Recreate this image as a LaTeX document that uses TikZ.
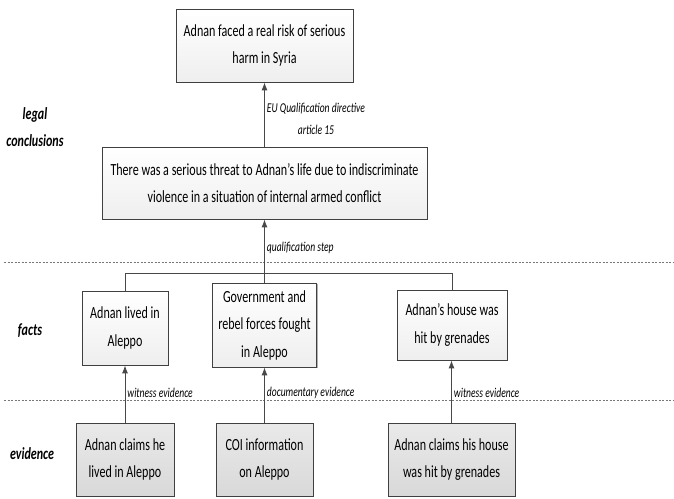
\documentclass[tikz,border=0pt]{standalone}
\usepackage{fontspec}
\setmainfont{Carlito}[FakeStretch=0.71]
\usetikzlibrary{arrows.meta}
\usetikzlibrary{shadows}
\definecolor{boxline}{RGB}{64,64,64}
\definecolor{linkgray}{RGB}{72,72,72}
\definecolor{sepgray}{RGB}{120,120,120}

\begin{document}
\begin{tikzpicture}[x=1pt, y=-1pt,
  claim/.style={draw=boxline, line width=0.8pt, top color=white, bottom color=gray!13,
    drop shadow={shadow xshift=1.2pt, shadow yshift=-1.2pt, opacity=0.3, fill=black},
    align=center, inner sep=2pt, font=\fontsize{17}{27.5}\selectfont},
  source/.style={claim, top color=gray!17, bottom color=gray!30},
  layer/.style={font=\fontsize{17}{27}\selectfont\bfseries\itshape, align=center},
  why/.style={font=\fontsize{13.5}{22}\selectfont\itshape, align=center, inner sep=2pt, right},
  link/.style={draw=linkgray, line width=0.9pt},
  support/.style={link, -{Latex[length=8pt, width=6pt]}}]

\useasboundingbox (0,0) rectangle (674,498);

% Layer separators
\foreach \y in {262,400} {
  \draw[sepgray, line width=0.5pt, dash pattern=on 2pt off 1.5pt] (4,\y) -- (674,\y);
}

% Layer names
\node[layer] (lay-legal) at (35,127) {legal\\conclusions};
\node[layer] (lay-facts) at (30,331) {facts};
\node[layer] (lay-evid) at (32,454) {evidence};

% Legal conclusions
\node[claim, minimum width=177pt, minimum height=73pt] (harm) at (264.5,45.5)
  {Adnan faced a real risk of serious\\harm in Syria};
\node[claim, minimum width=325pt, minimum height=72pt] (threat) at (264.5,183)
  {There was a serious threat to Adnan’s life due to indiscriminate\\violence in a situation of internal armed conflict};

% Facts
\node[claim, minimum width=86pt, minimum height=74pt] (lived) at (125,328)
  {Adnan lived in\\Aleppo};
\node[claim, minimum width=104pt, minimum height=84pt] (fought) at (264.5,325)
  {Government and\\rebel forces fought\\in Aleppo};
\node[claim, minimum width=110pt, minimum height=70pt] (house) at (452,325)
  {Adnan’s house was\\hit by grenades};

% Evidence
\node[source, minimum width=98pt, minimum height=73pt] (says-lived) at (125,459.5)
  {Adnan claims he\\lived in Aleppo};
\node[source, minimum width=97pt, minimum height=73pt] (coi) at (264.5,459.5)
  {COI information\\on Aleppo};
\node[source, minimum width=127pt, minimum height=73pt] (says-house) at (451.5,459.5)
  {Adnan claims his house\\was hit by grenades};

% Connectors
\coordinate (split) at (264.5,273);
\draw[link] (lived.north) -- (lived.north |- split) -- (house.north |- split) -- (house.north);
\draw[link] (fought.north) -- (split);
\draw[support] (split) -- node[why, pos=0.46] {qualification step} (threat.south);
\draw[support] (threat.north) -- node[why, pos=0.43] {EU Qualification directive\\article 15} (harm.south);

\draw[support] (says-lived.north) -- node[why, pos=0.52] {witness evidence} (says-lived.north |- lived.south);
\draw[support] (coi.north) -- node[why, pos=0.54] {documentary evidence} (fought.south);
\draw[support] (says-house.north) -- node[why, pos=0.48] {witness evidence} (says-house.north |- house.south);

\end{tikzpicture}
\end{document}
